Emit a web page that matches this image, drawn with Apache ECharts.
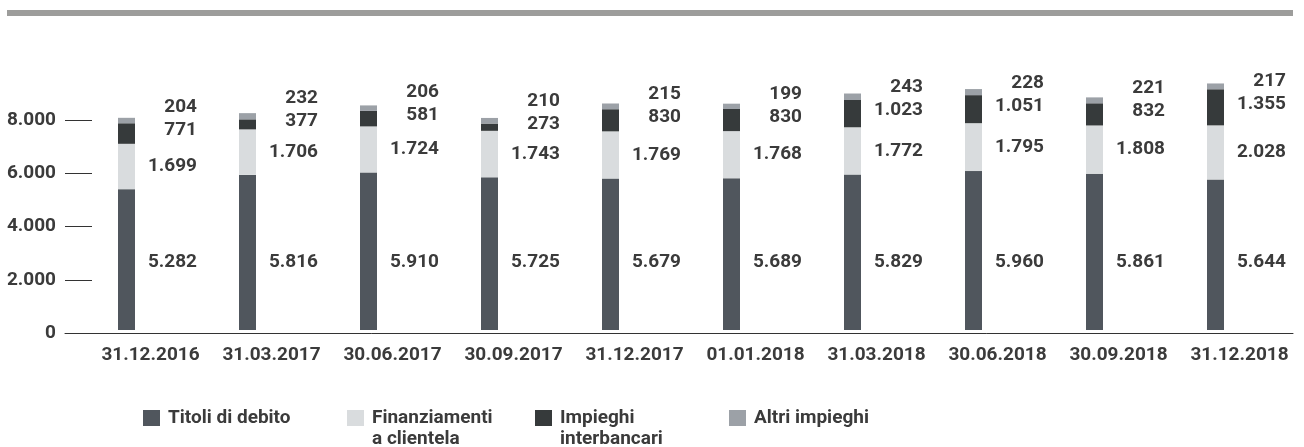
<!DOCTYPE html>
<html><head><meta charset="utf-8">
<script src="https://cdn.jsdelivr.net/npm/echarts@6/dist/echarts.min.js"></script>
<style>html,body{margin:0;padding:0;background:#fff}#c{width:1304px;height:447px}</style>
</head><body><div id="c"></div>
<script>
const categories = ['31.12.2016','31.03.2017','30.06.2017','30.09.2017','31.12.2017','01.01.2018','31.03.2018','30.06.2018','30.09.2018','31.12.2018'];
const titoliDiDebito = [5282,5816,5910,5725,5679,5689,5829,5960,5861,5644];
const finanziamentiClientela = [1699,1706,1724,1743,1769,1768,1772,1795,1808,2028];
const impieghiInterbancari = [771,377,581,273,830,830,1023,1051,832,1355];
const altriImpieghi = [204,232,206,210,215,199,243,228,221,217];
const seriesNames = ['Titoli di debito','Finanziamenti a clientela','Impieghi interbancari','Altri impieghi'];
const legendLines = [['Titoli di debito'],['Finanziamenti','a clientela'],['Impieghi','interbancari'],['Altri impieghi']];
const seriesColors = ['#50565d','#d9dcde','#363a3b','#9ca1a7'];

const TXT = '#3b3b3b';
const FONT = 'Roboto';
const FS = 19;
const FW = 'bold';
const LH = 21;
const fmt = n => String(n).replace(/\B(?=(\d{3})+(?!\d))/g, '.');

const chart = echarts.init(document.getElementById('c'), null, {renderer: 'canvas'});

function labelX(r) { return r.x + r.width + 62; }

const layouts = [
  p => ({x: labelX(p.rect), y: p.rect.y + p.rect.height - 68, align: 'right', verticalAlign: 'middle'}),
  p => ({x: labelX(p.rect), y: p.rect.y + p.rect.height / 2, align: 'right', verticalAlign: 'middle'}),
  p => ({x: labelX(p.rect), y: p.rect.y + p.rect.height / 2 - 3, align: 'right', verticalAlign: 'middle'}),
  p => {
    const i = p.dataIndex;
    const k = p.rect.height / altriImpieghi[i];
    const impMid = p.rect.y + p.rect.height + impieghiInterbancari[i] * k / 2;
    return {x: labelX(p.rect), y: impMid - 3 - 23, align: 'right', verticalAlign: 'middle'};
  }
];

const dataSets = [titoliDiDebito, finanziamentiClientela, impieghiInterbancari, altriImpieghi];

const series = dataSets.map((d, s) => ({
  name: seriesNames[s],
  type: 'bar',
  stack: 'tot',
  xAxisIndex: 1,
  yAxisIndex: 1,
  barWidth: 17,
  data: d,
  itemStyle: {color: seriesColors[s]},
  label: {
    show: true,
    formatter: p => fmt(p.value),
    fontFamily: FONT, fontSize: FS, fontWeight: FW, color: TXT
  },
  labelLayout: layouts[s]
}));

const legendLeft = [143, 347, 535, 729];
const legend = seriesNames.map((n, i) => {
  const lines = legendLines[i];
  const txt = (lines.length > 1 ? ['{a| }'] : []).concat(lines.map(l => '{a|' + l + '}')).join('\n');
  return {
    data: [n],
    left: legendLeft[i],
    top: lines.length > 1 ? 386.5 : 407.5,
    padding: 0,
    itemWidth: 17,
    itemHeight: 16,
    icon: 'rect',
    selectedMode: false,
    formatter: () => txt,
    textStyle: {
      fontFamily: FONT, fontSize: FS, fontWeight: FW, color: TXT, lineHeight: LH,
      rich: {a: {fontFamily: FONT, fontSize: FS, fontWeight: FW, color: TXT, lineHeight: LH, padding: [0, 0, 0, 3]}}
    }
  };
});

chart.setOption({
  animation: false,
  backgroundColor: '#fff',
  graphic: [{type: 'rect', shape: {x: 7, y: 10, width: 1286, height: 6}, style: {fill: '#9d9d9b'}}],
  legend: legend,
  grid: [
    {left: 65, top: 120, width: 1228, height: 213},
    {left: 66, top: 63.3, width: 1210, height: 266.7}
  ],
  xAxis: [
    {type: 'value', gridIndex: 0, min: 0, max: 1, axisLine: {show: true, lineStyle: {color: '#333', width: 1}}, axisTick: {show: false}, axisLabel: {show: false}, splitLine: {show: false}},
    {type: 'category', gridIndex: 1, data: categories, axisLine: {show: false}, axisTick: {show: false},
     axisLabel: {fontFamily: FONT, fontSize: FS, fontWeight: FW, color: TXT, margin: 16, padding: [0, 0, 0, 48], interval: 0}}
  ],
  yAxis: [
    {type: 'value', gridIndex: 0, min: 0, max: 8000, interval: 2000,
     axisLine: {show: false}, splitLine: {show: false},
     axisTick: {show: true, inside: true, length: 27, lineStyle: {color: '#333', width: 1}},
     axisLabel: {fontFamily: FONT, fontSize: FS, fontWeight: FW, color: TXT, margin: 9, formatter: v => fmt(v)}},
    {type: 'value', gridIndex: 1, min: 0, max: 10000, show: false}
  ],
  series: series
});
</script></body></html>
